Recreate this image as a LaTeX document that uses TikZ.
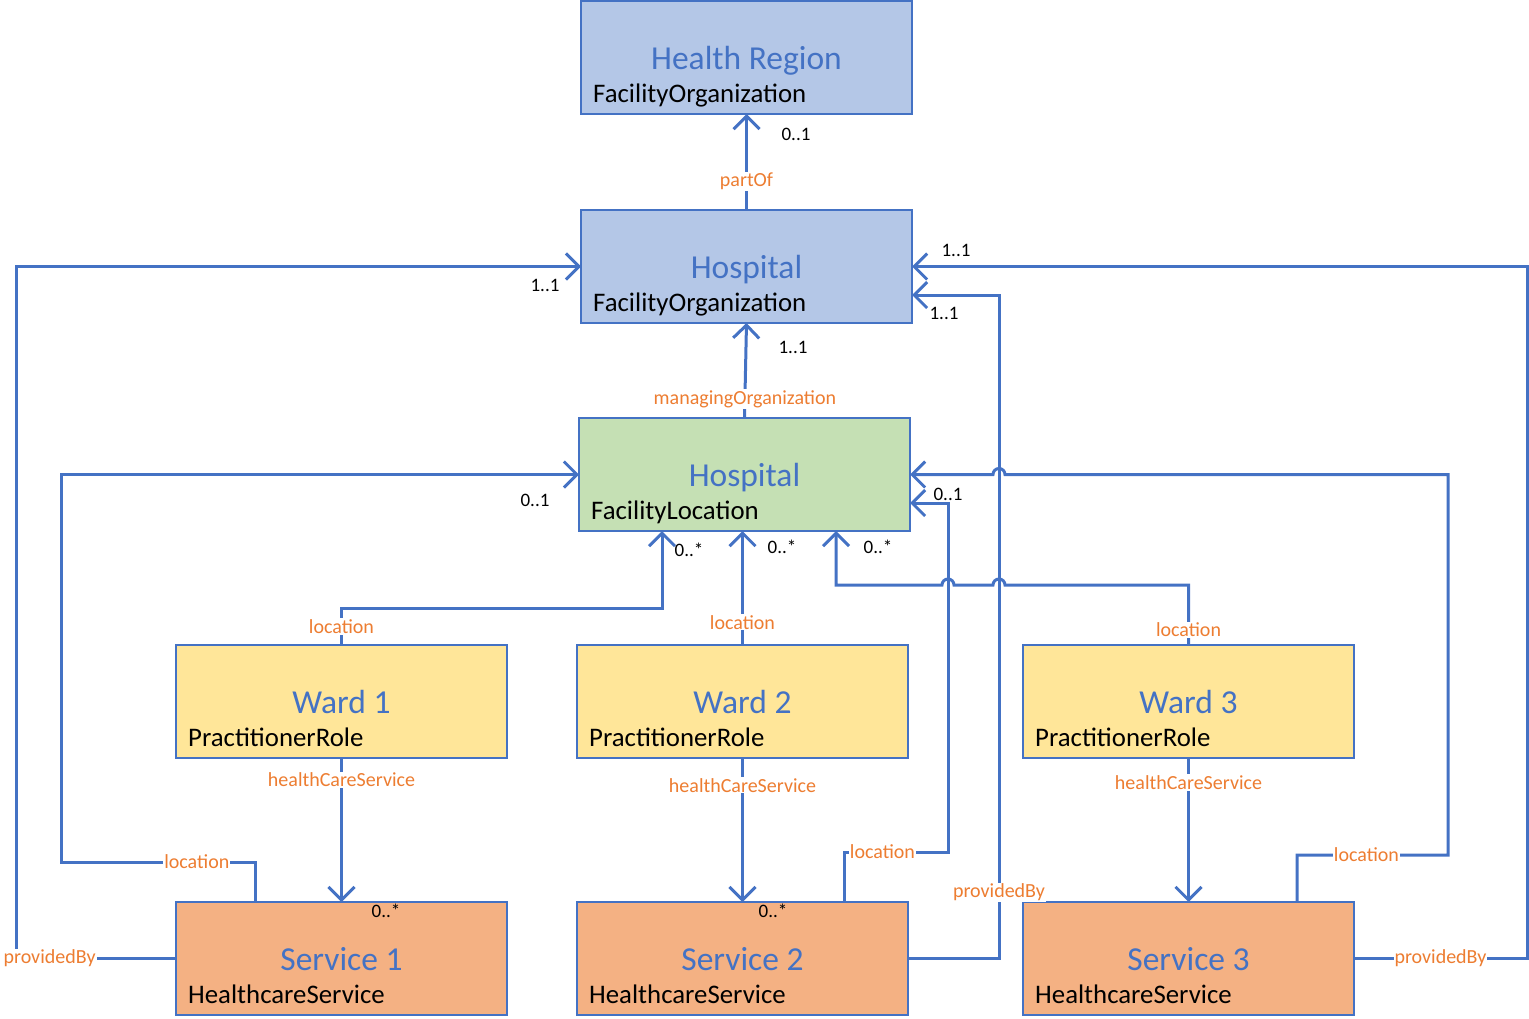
\documentclass[tikz,border=0pt]{standalone}
\usepackage{fontspec}
\setmainfont{Carlito}
\usetikzlibrary{arrows.meta}
\definecolor{umlblue}{RGB}{68,114,196}
\definecolor{umlorange}{RGB}{237,125,49}
\definecolor{orgfill}{RGB}{180,199,231}
\definecolor{locfill}{RGB}{197,224,180}
\definecolor{wardfill}{RGB}{255,230,153}
\definecolor{svcfill}{RGB}{244,177,131}

% class box: name, x, y, fill, title, resource type
\newcommand{\classbox}[6]{%
  \node[cbox,fill=#4] (#1) at (#2,#3) {};
  \node[ctitle] (#1t) at ([yshift=-11.5pt]#1.center) {#5};
  \node[ctype] (#1s) at ([xshift=12pt,yshift=-45pt]#1.west) {#6};
}

\begin{document}
\begin{tikzpicture}[x=1pt,y=-1pt,
  cbox/.style={draw=umlblue,line width=2pt,minimum width=331pt,minimum height=113pt,inner sep=0pt,outer sep=0pt},
  ctitle/.style={anchor=base,text=umlblue,font=\fontsize{33.5}{40}\selectfont,inner sep=0pt},
  ctype/.style={anchor=base west,font=\fontsize{26.8}{32}\selectfont,inner sep=0pt},
  nav/.style={draw=umlblue,line width=3pt,-{Straight Barb[length=13pt,width=26pt]}},
  lbl/.style={text=umlorange,fill=white,inner sep=1pt,font=\fontsize{20}{24}\selectfont},
  mult/.style={font=\fontsize{19}{22}\selectfont,inner sep=0pt}]
\useasboundingbox (0,0) rectangle (1529,1018);

% Boxes
\classbox{hr}{746.5}{57.5}{orgfill}{Health Region}{FacilityOrganization}
\classbox{ho}{746.5}{266.5}{orgfill}{Hospital}{FacilityOrganization}
\classbox{hl}{744.5}{474.5}{locfill}{Hospital}{FacilityLocation}
\classbox{wa}{341.5}{701.5}{wardfill}{Ward 1}{PractitionerRole}
\classbox{wb}{742.5}{701.5}{wardfill}{Ward 2}{PractitionerRole}
\classbox{wc}{1188.5}{701.5}{wardfill}{Ward 3}{PractitionerRole}
\classbox{sa}{341.5}{958.5}{svcfill}{Service 1}{HealthcareService}
\classbox{sb}{742.5}{958.5}{svcfill}{Service 2}{HealthcareService}
\classbox{sc}{1188.5}{958.5}{svcfill}{Service 3}{HealthcareService}

% Organization links
\draw[nav] (ho.north) -- node[lbl,pos=.3] (lpart) {partOf} (hr.south);
\draw[nav] (hl.north) -- node[lbl,pos=.2] (lmng) {managingOrganization} (ho.south);

% Ward locations
\draw[nav] (wa.north) -- node[lbl] (lwa) {location} ++(0,-37) -| ([xshift=-82.5pt]hl.south);
\draw[nav] (wb.north) -- node[lbl,pos=.2] (lwb) {location} (wb.north |- hl.south);
\draw[nav] (wc.north) -- node[lbl,pos=.25] (lwc) {location} ++(0,-60) -- (1005,585)
  arc[start angle=0,end angle=180,radius=6pt] -- (954,585)
  arc[start angle=0,end angle=180,radius=6pt] -- (836,585) -- ([xshift=91.5pt]hl.south);

% Ward services
\draw[nav] (wa.south) -- node[lbl,pos=.15] (hsa) {healthCareService} (sa.north);
\draw[nav] (wb.south) -- node[lbl,pos=.19] (hsb) {healthCareService} (sb.north);
\draw[nav] (wc.south) -- node[lbl,pos=.17] (hsc) {healthCareService} (sc.north);

% Service locations
\draw[nav] ([xshift=-86.5pt]sa.north) -- ++(0,-40) -- node[lbl,pos=.3] (lsa) {location} (61,862) |- (hl.west);
\draw[nav] ([xshift=101.5pt]sb.north) -- ++(0,-50) -- node[lbl,pos=.37] (lsb) {location} (948,852) |- ([yshift=-28.5pt]hl.east);
\draw[nav] ([xshift=108.5pt]sc.north) -- ++(0,-47) -- node[lbl,pos=.46] (lsc) {location} (1448,855) -- (1448,474.5)
  -- (1005,474.5) arc[start angle=0,end angle=180,radius=6pt] -- (hl.east);

% Providers
\draw[nav] (sa.west) -- node[lbl,pos=.79] (psa) {providedBy} (16,958.5) |- (ho.west);
\draw[nav] (sb.east) -- (999,958.5) -- node[lbl,pos=.1] (psb) {providedBy} (999,295) -- ([yshift=-28.5pt]ho.east);
\draw[nav] (sc.east) -- node[lbl] (psc) {providedBy} (1527,958.5) |- (ho.east);

% Multiplicities
\node[mult] (m1) at (796,134) {0..1};
\node[mult] (m2) at (793,347) {1..1};
\node[mult] (m3) at (545,285) {1..1};
\node[mult] (m4) at (956,250) {1..1};
\node[mult] (m5) at (944,313) {1..1};
\node[mult] (m6) at (535,500) {0..1};
\node[mult] (m7) at (948,494) {0..1};
\node[mult] (m8) at (689,550) {0..*};
\node[mult] (m9) at (782,547) {0..*};
\node[mult] (m10) at (878,547) {0..*};
\node[mult] (m11) at (386,911) {0..*};
\node[mult] (m12) at (773,911) {0..*};
\end{tikzpicture}
\end{document}
